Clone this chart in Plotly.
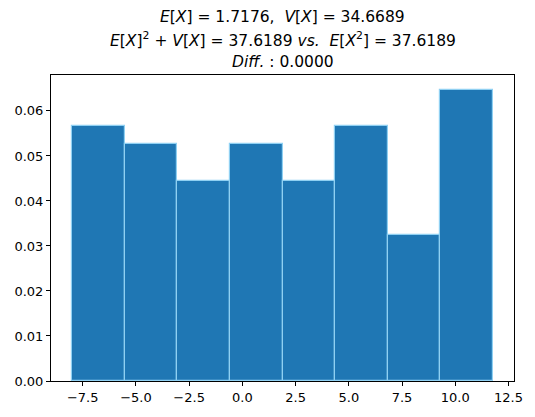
import numpy as np
import plotly.graph_objects as go

# Histogram data (density=True)
bin_lo = -8.0
bin_hi = 11.77
counts = [14, 13, 11, 13, 11, 14, 8, 16]

x_ticks = [-7.5, -5.0, -2.5, 0.0, 2.5, 5.0, 7.5, 10.0, 12.5]
x_tick_labels = ["−7.5", "−5.0", "−2.5", "0.0", "2.5", "5.0", "7.5", "10.0", "12.5"]
y_ticks = [0.00, 0.01, 0.02, 0.03, 0.04, 0.05, 0.06]
y_tick_labels = ["0.00", "0.01", "0.02", "0.03", "0.04", "0.05", "0.06"]

title_lines = [
    "<i>E</i>[<i>X</i>] = 1.7176,  <i>V</i>[<i>X</i>] = 34.6689",
    "<i>E</i>[<i>X</i>]<sup>2</sup> + <i>V</i>[<i>X</i>] = 37.6189 <i>vs.</i>  <i>E</i>[<i>X</i><sup>2</sup>] = 37.6189",
    "<i>Diff.</i> : 0.0000",
]

edges = np.linspace(bin_lo, bin_hi, len(counts) + 1)
width = edges[1] - edges[0]
centers = (edges[:-1] + edges[1:]) / 2
density = np.array(counts) / (sum(counts) * width)

fig = go.Figure()
fig.add_trace(go.Bar(
    x=centers, y=density, width=width,
    marker=dict(color="#1f77b4", line=dict(color="#8fd0f2", width=1.2)),
))

span = bin_hi - bin_lo
fig.update_layout(
    width=535, height=417,
    margin=dict(l=51, r=19, t=75, b=34),
    plot_bgcolor="white", paper_bgcolor="white",
    font=dict(family="DejaVu Sans", size=13, color="black"),
    showlegend=False,
    bargap=0,
)
fig.update_xaxes(
    range=[bin_lo - 0.05 * span, bin_hi + 0.05 * span],
    tickvals=x_ticks, ticktext=x_tick_labels,
    showline=True, linecolor="black", linewidth=1, mirror=True,
    ticks="outside", ticklen=4, tickcolor="black", showgrid=False, zeroline=False,
)
fig.update_yaxes(
    range=[0, max(density) * 1.05],
    tickvals=y_ticks, ticktext=y_tick_labels,
    showline=True, linecolor="black", linewidth=1, mirror=True,
    ticks="outside", ticklen=4, tickcolor="black", showgrid=False, zeroline=False,
)
for i, (line, shift) in enumerate(zip(title_lines, [58, 36, 13])):
    fig.add_annotation(
        text=line, xref="paper", yref="paper", x=0.5, y=1,
        xanchor="center", yanchor="middle", yshift=shift,
        showarrow=False, font=dict(size=15.5, family="DejaVu Sans"),
    )

fig.write_html("out.html", config={"displayModeBar": False},
               post_script="document.body.style.margin='0';")
